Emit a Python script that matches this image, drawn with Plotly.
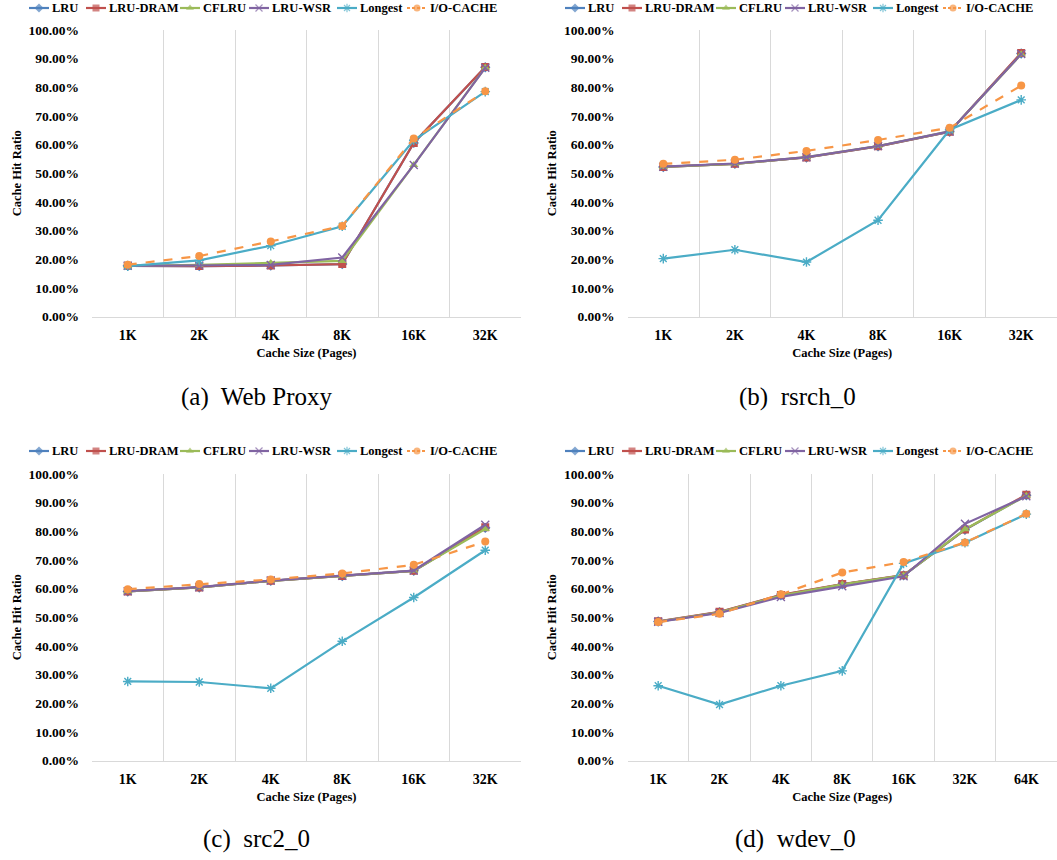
import plotly.graph_objects as go

# ---- data -------------------------------------------------------------
sizes6 = ["1K", "2K", "4K", "8K", "16K", "32K"]
sizes7 = ["1K", "2K", "4K", "8K", "16K", "32K", "64K"]

policies = ["LRU", "LRU-DRAM", "CFLRU", "LRU-WSR", "Longest", "I/O-CACHE"]

# (a) Web Proxy – hit ratio in percent
web_lru      = [17.7, 17.6, 17.8, 18.3, 60.6, 87.0]
web_lru_dram = [17.7, 17.6, 17.8, 18.3, 60.6, 87.1]
web_cflru    = [17.7, 18.0, 18.7, 19.4, 52.9, 86.9]
web_lru_wsr  = [17.7, 17.8, 18.0, 20.6, 52.9, 86.8]
web_longest  = [17.6, 19.6, 24.7, 31.5, 61.5, 78.5]
web_iocache  = [18.1, 21.1, 26.2, 31.6, 62.1, 78.6]

# (b) rsrch_0
rsrch_lru      = [52.2, 53.3, 55.5, 59.4, 64.5, 91.8]
rsrch_lru_dram = [52.2, 53.3, 55.5, 59.4, 64.5, 92.0]
rsrch_cflru    = [52.2, 53.3, 55.6, 59.5, 64.6, 91.5]
rsrch_lru_wsr  = [52.3, 53.4, 55.6, 59.5, 64.6, 91.6]
rsrch_longest  = [20.2, 23.3, 19.0, 33.6, 65.2, 75.6]
rsrch_iocache  = [53.3, 54.7, 57.8, 61.6, 65.9, 80.6]

# (c) src2_0
src2_lru      = [59.0, 60.4, 62.7, 64.4, 66.2, 81.2]
src2_lru_dram = [59.0, 60.4, 62.7, 64.4, 66.2, 81.4]
src2_cflru    = [59.0, 60.4, 62.7, 64.4, 66.2, 80.8]
src2_lru_wsr  = [59.1, 60.5, 62.8, 64.5, 66.3, 82.3]
src2_longest  = [27.6, 27.4, 25.2, 41.6, 56.9, 73.4]
src2_iocache  = [59.8, 61.6, 63.2, 65.3, 68.3, 76.4]

# (d) wdev_0
wdev_lru      = [48.5, 51.8, 57.7, 61.5, 64.6, 80.5, 92.6]
wdev_lru_dram = [48.6, 51.9, 57.8, 61.6, 64.7, 80.6, 92.8]
wdev_cflru    = [48.5, 51.7, 57.6, 61.5, 64.6, 80.7, 92.4]
wdev_lru_wsr  = [48.4, 51.5, 57.1, 60.8, 64.3, 82.6, 92.2]
wdev_longest  = [26.1, 19.5, 26.1, 31.3, 68.8, 76.0, 86.0]
wdev_iocache  = [48.3, 51.2, 58.0, 65.6, 69.3, 76.1, 86.1]

panels = [
    dict(x=sizes6, series=[web_lru, web_lru_dram, web_cflru, web_lru_wsr, web_longest, web_iocache],
         caption="(a)  Web Proxy"),
    dict(x=sizes6, series=[rsrch_lru, rsrch_lru_dram, rsrch_cflru, rsrch_lru_wsr, rsrch_longest, rsrch_iocache],
         caption="(b)  rsrch_0"),
    dict(x=sizes6, series=[src2_lru, src2_lru_dram, src2_cflru, src2_lru_wsr, src2_longest, src2_iocache],
         caption="(c)  src2_0"),
    dict(x=sizes7, series=[wdev_lru, wdev_lru_dram, wdev_cflru, wdev_lru_wsr, wdev_longest, wdev_iocache],
         caption="(d)  wdev_0"),
]

# ---- styling ---------------------------------------------------------
W, H = 1057, 860
colors = ["#4F81BD", "#C0504D", "#9BBB59", "#8064A2", "#4BACC6", "#F79646"]
symbols = ["diamond", "square", "triangle-up", "x-thin-open", "asterisk-open", "circle"]
dashes = ["solid"] * 5 + ["dash"]

SERIF = "Liberation Serif"
bold = lambda s: dict(family=SERIF, size=s, color="#000000", weight="bold")

# plot-area rectangles in pixels: (left, right, top, bottom)
boxes = [
    (92, 521, 30, 316.5),
    (627.5, 1057, 30, 316.5),
    (92, 521, 474, 760.5),
    (627.5, 1057, 474, 760.5),
]
# compact per-panel key: left offset of the key row and its vertical centre (px)
key_origin = [(0, 8), (536, 8), (0, 451), (536, 451)]
key_sample_x = [29, 86, 180, 249, 337, 407]   # start of each sample line
KEY_SAMPLE_W = 20
caption_px = [(256, 397), (797, 397), (256, 839), (795, 839)]

fig = go.Figure()
layout = dict(
    width=W, height=H,
    margin=dict(l=0, r=0, t=0, b=0, autoexpand=False),
    paper_bgcolor="white", plot_bgcolor="rgba(0,0,0,0)",
    showlegend=False,
    annotations=[],
)

# pixel-unit overlay axes used for the per-panel keys
layout["xaxis5"] = dict(domain=[0, 1], range=[0, W], visible=False, fixedrange=True, anchor="y5")
layout["yaxis5"] = dict(domain=[0, 1], range=[H, 0], visible=False, fixedrange=True, anchor="x5")

for i, p in enumerate(panels):
    k = "" if i == 0 else str(i + 1)
    for j, name in enumerate(policies):
        fig.add_trace(go.Scatter(
            x=p["x"], y=p["series"][j], name=name,
            mode="lines+markers",
            line=dict(color=colors[j], width=2.2, dash=dashes[j]),
            marker=dict(symbol=symbols[j], color=colors[j], size=8,
                        line=dict(color=colors[j], width=1.4 if j in (3, 4) else 0)),
            xaxis="x" + k, yaxis="y" + k,
            hoverinfo="x+y+name",
        ))

    # key row for this panel
    ox, oy = key_origin[i]
    for j, name in enumerate(policies):
        sx = ox + key_sample_x[j]
        fig.add_trace(go.Scatter(
            x=[sx, sx + KEY_SAMPLE_W / 2, sx + KEY_SAMPLE_W], y=[oy, oy, oy],
            mode="lines+markers", name=name,
            line=dict(color=colors[j], width=2.2, dash="solid" if j < 5 else "3px,2px"),
            marker=dict(symbol=symbols[j], color=colors[j], size=[0, 7, 0],
                        line=dict(color=colors[j], width=1.2 if j in (3, 4) else 0)),
            xaxis="x5", yaxis="y5", hoverinfo="skip",
        ))
        layout["annotations"].append(dict(
            text=name, x=sx + KEY_SAMPLE_W + 1, y=oy, xref="x5", yref="y5",
            xanchor="left", yanchor="middle", showarrow=False, font=bold(12.5),
        ))

    l, r, t, b = boxes[i]
    n = len(p["x"])
    layout["xaxis" + k] = dict(
        domain=[l / W, r / W], anchor="y" + k,
        type="category", range=[-0.5, n - 0.5],
        tickson="boundaries", ticks="",
        showgrid=True, gridcolor="#D9D9D9", gridwidth=1,
        showline=True, linecolor="#D9D9D9", linewidth=1,
        tickfont=bold(14), ticklabelstandoff=6,
        title=dict(text="Cache Size (Pages)", font=bold(12.5), standoff=5),
        fixedrange=True,
    )
    layout["yaxis" + k] = dict(
        domain=[1 - b / H, 1 - t / H], anchor="x" + k,
        range=[0, 100], dtick=10, tick0=0,
        tickformat=".2f", ticksuffix="%",
        showgrid=False, zeroline=False, showline=False, ticks="",
        tickfont=bold(13.5), ticklabelstandoff=12,
        title=dict(text="Cache Hit Ratio", font=bold(12.5), standoff=4),
        fixedrange=True,
    )
    cx, cy = caption_px[i]
    layout["annotations"].append(dict(
        text=p["caption"], x=cx / W, y=1 - cy / H,
        xref="paper", yref="paper", xanchor="center", yanchor="middle",
        showarrow=False, font=dict(family=SERIF, size=25, color="#000000"),
    ))

fig.update_layout(**layout)
fig.write_html("out.html")
